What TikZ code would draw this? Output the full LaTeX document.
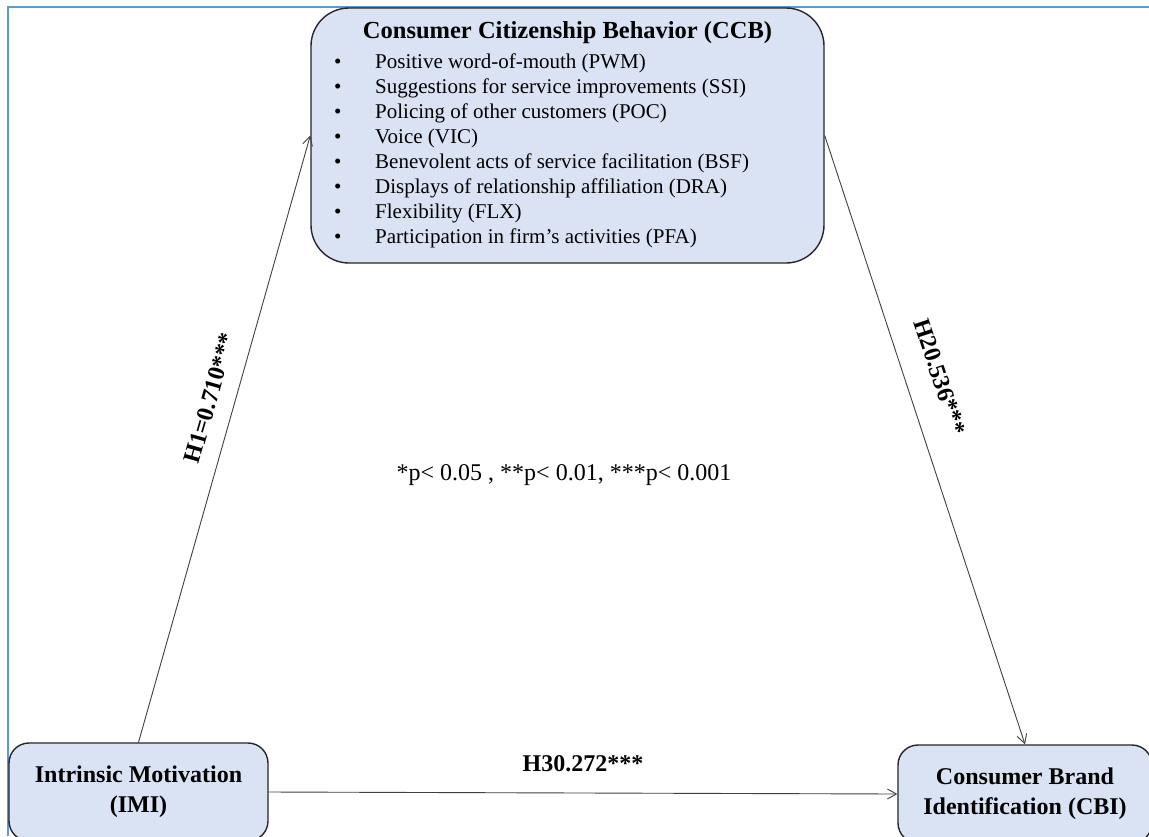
\documentclass[tikz,border=0pt]{standalone}
\usepackage{fontspec}
\setmainfont{Liberation Serif}
\usetikzlibrary{arrows.meta}
\definecolor{boxfill}{HTML}{DAE3F3}
\definecolor{frameblue}{HTML}{5B9BD5}
\definecolor{linegray}{HTML}{404040}
\begin{document}
\begin{tikzpicture}[x=1pt,y=-1pt,
  box/.style={draw=black!85, line width=1.4pt, fill=boxfill, rounded corners=20pt, align=center, inner sep=0pt},
  conn/.style={draw=linegray, line width=0.9pt, -{Straight Barb[length=9pt,width=10pt]}},
  boldlabel/.style={font=\fontsize{24}{30}\selectfont\bfseries},
  itemtext/.style={font=\fontsize{21}{25}\selectfont, anchor=base west, inner sep=0pt},
]
\useasboundingbox (0,0) rectangle (1149,836);
\clip (0,0) rectangle (1149,836);
\fill[white] (0,0) rectangle (1149,836);
\draw[frameblue, line width=2.5pt] (8,836) -- (8,7) -- (1149,7);

\node[box, rounded corners=38pt, minimum width=513pt, minimum height=255pt] (ccb) at (567.5,135.5) {};
\node[box, boldlabel, minimum width=259pt, minimum height=98pt] (imi) at (138.5,792) {Intrinsic Motivation\\(IMI)};
\node[box, boldlabel, minimum width=254pt, minimum height=98pt] (cbi) at (1025,794) {Consumer Brand\\Identification (CBI)};

\node[font=\fontsize{24.5}{28}\selectfont\bfseries, anchor=base, inner sep=0pt] (ccbtitle) at (567.5,38) {Consumer Citizenship Behavior (CCB)};
\foreach \t [count=\i from 0] in {Positive word-of-mouth (PWM), Suggestions for service improvements (SSI), Policing of other customers (POC), Voice (VIC), Benevolent acts of service facilitation (BSF), Displays of relationship affiliation (DRA), Flexibility (FLX), Participation in firm’s activities (PFA)} {
  \node[itemtext] (bullet\i) at (334, 68+25.1*\i) {•};
  \node[itemtext] (item\i) at (375, 68+25.1*\i) {\t};
}

\draw[conn] (imi.north) -- (ccb.west);
\draw[conn] (ccb.east) -- (cbi.north);
\draw[conn] (imi.east) -- (cbi.west);

\node[boldlabel, rotate=74] (h1) at (210,398) {H1=0.710***};
\node[boldlabel, rotate=-71.7] (h2) at (940,377) {H20.536***};
\node[boldlabel, anchor=base] (h3) at (583,771) {H30.272***};
\node[font=\fontsize{24}{28}\selectfont] (note) at (564,475) {*p< 0.05 , **p< 0.01, ***p< 0.001};
\end{tikzpicture}
\end{document}
